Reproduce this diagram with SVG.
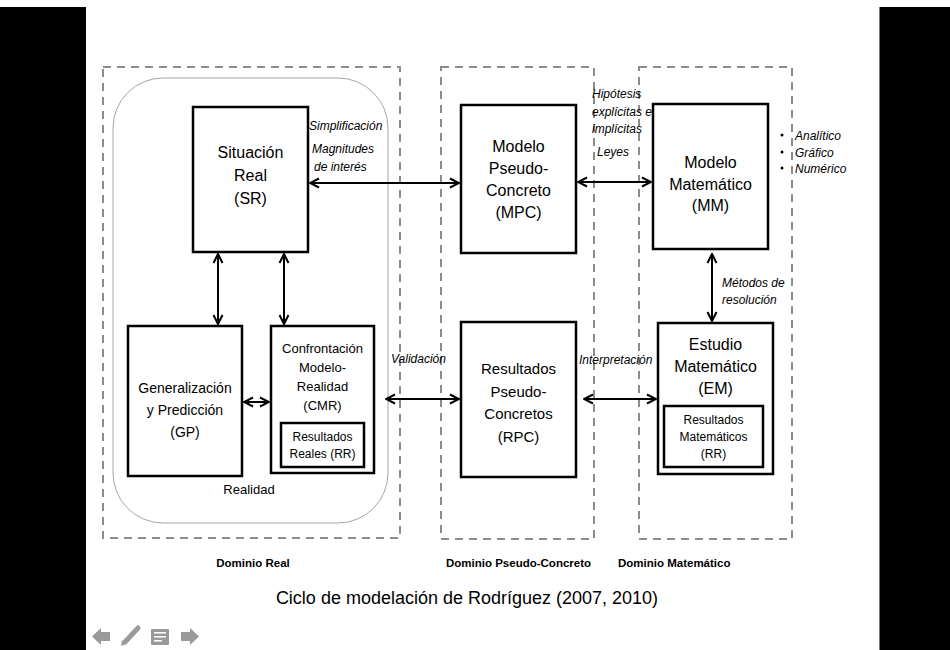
<svg xmlns="http://www.w3.org/2000/svg" width="950" height="650" viewBox="0 0 950 650">
<style>
.bg{fill:#fff}
.bar{fill:#000}
.dom{fill:none;stroke:#8c8c8c;stroke-width:2;stroke-dasharray:8 6}
.real{fill:none;stroke:#a6a6a6;stroke-width:1}
.box{fill:#fff;stroke:#000;stroke-width:2.5}
.t16{font-family:"Liberation Sans",Arial,sans-serif;font-size:16px;fill:#000;text-anchor:middle}
.t15{font-family:"Liberation Sans",Arial,sans-serif;font-size:15px;fill:#000;text-anchor:middle}
.t14{font-family:"Liberation Sans",Arial,sans-serif;font-size:14px;fill:#000;text-anchor:middle}
.t13{font-family:"Liberation Sans",Arial,sans-serif;font-size:13px;fill:#000;text-anchor:middle}
.t12{font-family:"Liberation Sans",Arial,sans-serif;font-size:12px;fill:#000;text-anchor:middle}
.it{font-family:"Liberation Sans",Arial,sans-serif;font-size:12px;font-style:italic;fill:#000}
.dl{font-family:"Liberation Sans",Arial,sans-serif;font-size:11.5px;font-weight:bold;fill:#000}
.title{font-family:"Liberation Sans",Arial,sans-serif;font-size:18px;fill:#000;text-anchor:middle}
.conn{fill:none;stroke:#000;stroke-width:2;marker-start:url(#ah);marker-end:url(#ah)}
.icon{fill:#9a9a9a}
</style>
<defs>
<marker id="ah" viewBox="0 0 12 12" refX="10.5" refY="6" markerWidth="12" markerHeight="12" markerUnits="userSpaceOnUse" orient="auto-start-reverse">
<path d="M1.5,1.5 L10.5,6 L1.5,10.5" fill="none" stroke="#000" stroke-width="2"/>
</marker>
</defs>
<rect class="bg" x="0" y="0" width="950" height="650"/>
<rect class="bar" x="0" y="7" width="86" height="643"/>
<rect class="bar" x="879" y="7" width="71" height="643"/>
<line x1="879.5" y1="7" x2="879.5" y2="650" stroke="#777" stroke-width="1"/>

<g id="domains">
<rect class="dom" x="103" y="67" width="297" height="471"/>
<rect class="dom" x="441" y="67" width="153" height="472"/>
<rect class="dom" x="639" y="67" width="153" height="472"/>
<rect class="real" x="113" y="78" width="275" height="445" rx="50" ry="50"/>
<text class="t13" x="249" y="494">Realidad</text>
<text class="dl" x="253" y="567" text-anchor="middle">Dominio Real</text>
<text class="dl" x="446" y="567">Dominio Pseudo-Concreto</text>
<text class="dl" x="618" y="567">Dominio Matemático</text>
</g>

<g id="connectors">
<path class="conn" d="M310,183 H459"/>
<path class="conn" d="M578,182 H651"/>
<path class="conn" d="M218,254 V324"/>
<path class="conn" d="M284,254 V324"/>
<path class="conn" d="M244,402 H269"/>
<path class="conn" d="M386,399 H459"/>
<path class="conn" d="M584,399 H656"/>
<path class="conn" d="M712,254 V321"/>
</g>

<g id="SR">
<rect class="box" x="193" y="107" width="115" height="145"/>
<text class="t16" x="250.5" y="158">Situación</text>
<text class="t16" x="250.5" y="181">Real</text>
<text class="t16" x="250.5" y="204">(SR)</text>
</g>

<g id="MPC">
<rect class="box" x="461" y="105" width="115" height="148"/>
<text class="t16" x="518.5" y="152">Modelo</text>
<text class="t16" x="518.5" y="174">Pseudo-</text>
<text class="t16" x="518.5" y="196">Concreto</text>
<text class="t16" x="518.5" y="218">(MPC)</text>
</g>

<g id="MM">
<rect class="box" x="653" y="104" width="115" height="145"/>
<text class="t16" x="710.5" y="168">Modelo</text>
<text class="t16" x="710.5" y="190">Matemático</text>
<text class="t16" x="710.5" y="211">(MM)</text>
</g>

<g id="GP">
<rect class="box" x="128" y="326" width="114" height="150"/>
<text class="t14" x="185" y="393">Generalización</text>
<text class="t14" x="185" y="415">y Predicción</text>
<text class="t14" x="185" y="437">(GP)</text>
</g>

<g id="CMR">
<rect class="box" x="271" y="326" width="103" height="147"/>
<text class="t13" x="322.5" y="353">Confrontación</text>
<text class="t13" x="322.5" y="372">Modelo-</text>
<text class="t13" x="322.5" y="391">Realidad</text>
<text class="t13" x="322.5" y="410">(CMR)</text>
<rect class="box" x="281" y="423" width="83" height="44"/>
<text class="t12" x="322.5" y="441">Resultados</text>
<text class="t12" x="322.5" y="458">Reales (RR)</text>
</g>

<g id="RPC">
<rect class="box" x="461" y="322" width="115" height="155"/>
<text class="t15" x="518.5" y="374">Resultados</text>
<text class="t15" x="518.5" y="397">Pseudo-</text>
<text class="t15" x="518.5" y="419">Concretos</text>
<text class="t15" x="518.5" y="442">(RPC)</text>
</g>

<g id="EM">
<rect class="box" x="658" y="323" width="115" height="151"/>
<text class="t16" x="715.5" y="350">Estudio</text>
<text class="t16" x="715.5" y="372">Matemático</text>
<text class="t16" x="715.5" y="394">(EM)</text>
<rect class="box" x="664" y="406" width="99" height="61"/>
<text class="t12" x="713.5" y="424">Resultados</text>
<text class="t12" x="713.5" y="441">Matemáticos</text>
<text class="t12" x="713.5" y="458">(RR)</text>
</g>

<g id="labels">
<text class="it" x="309" y="130">Simplificación</text>
<text class="it" x="312" y="153">Magnitudes</text>
<text class="it" x="314" y="171">de interés</text>
<text class="it" x="592" y="98">Hipótesis</text>
<text class="it" x="592" y="116">explícitas e</text>
<text class="it" x="592" y="133">implícitas</text>
<text class="it" x="597" y="156">Leyes</text>
<text class="it" x="722" y="287">Métodos de</text>
<text class="it" x="722" y="304">resolución</text>
<circle cx="782" cy="135" r="1.5" fill="#000"/>
<circle cx="782" cy="152" r="1.5" fill="#000"/>
<circle cx="782" cy="168" r="1.5" fill="#000"/>
<text class="it" x="795" y="140">Analítico</text>
<text class="it" x="795" y="157">Gráfico</text>
<text class="it" x="795" y="173">Numérico</text>
<text class="it" x="391" y="363">Validación</text>
<text class="it" x="579" y="364">Interpretación</text>
</g>

<text class="title" x="467" y="604">Ciclo de modelación de Rodríguez (2007, 2010)</text>

<g id="nav">
<polygon class="icon" points="92,636.5 101,628 101,632 110,632 110,641 101,641 101,645"/>
<polygon class="icon" points="199,636.5 190,628 190,632 181,632 181,641 190,641 190,645"/>
<path d="M125,642 L138,628" stroke="#9a9a9a" stroke-width="5" stroke-linecap="round"/>
<polygon class="icon" points="121,646 122,640 126,644"/>
<rect class="icon" x="151" y="629" width="18" height="16" rx="1"/>
<rect x="154" y="632" width="12" height="1.6" fill="#fff"/>
<rect x="154" y="636" width="12" height="1.6" fill="#fff"/>
<rect x="154" y="640" width="8" height="1.6" fill="#fff"/>
</g>
</svg>
